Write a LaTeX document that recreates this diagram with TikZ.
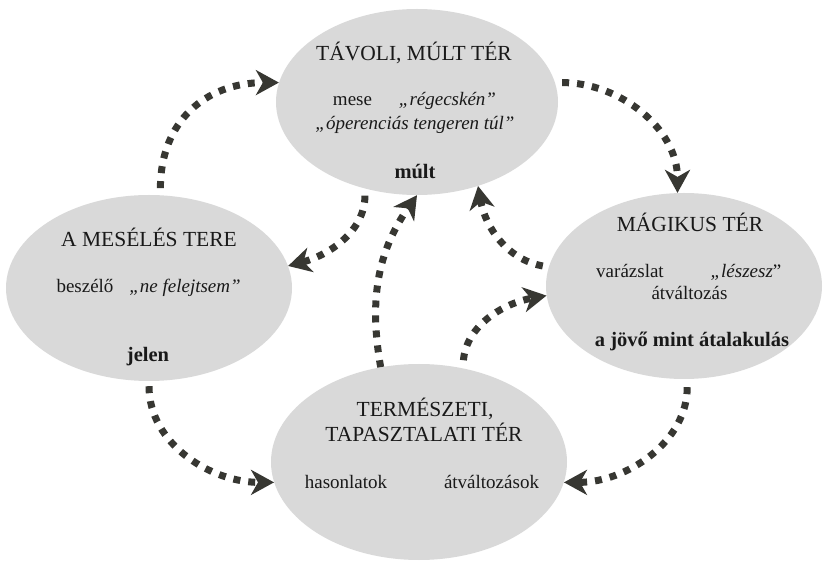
\documentclass[tikz,border=0pt]{standalone}
\usepackage{fontspec}
\setmainfont{Liberation Serif}
\usetikzlibrary{shapes.geometric,arrows.meta}
\definecolor{ellgray}{RGB}{217,217,217}
\definecolor{arrgray}{RGB}{55,55,50}
\definecolor{txt}{RGB}{25,25,25}
\tikzset{
  ell/.style={ellipse,fill=ellgray,draw=none,inner sep=0pt},
  head/.style={anchor=base,inner sep=0pt,text=txt,font=\fontsize{21.5}{24}\selectfont},
  body/.style={anchor=base,inner sep=0pt,text=txt,font=\fontsize{19}{22}\selectfont},
  bodyit/.style={anchor=base,inner sep=0pt,text=txt,font=\fontsize{19}{22}\selectfont\itshape},
  bold/.style={anchor=base,inner sep=0pt,text=txt,font=\fontsize{20.5}{23}\selectfont\bfseries},
  flow/.style={draw=arrgray,line width=7pt,dash pattern=on 7pt off 8pt,
    -{Stealth[length=23pt 0 0,width=25pt 0 0,inset=7pt 0]},fill=none},
}
\begin{document}
\begin{tikzpicture}[x=1pt,y=1pt]
\useasboundingbox (0,0) rectangle (823,563);
% ellipses
\node[ell,minimum width=282pt,minimum height=186pt] (T) at (417,461) {};
\node[ell,minimum width=286pt,minimum height=186pt] (L) at (149,275) {};
\node[ell,minimum width=276pt,minimum height=186pt] (R) at (684,277) {};
\node[ell,minimum width=296pt,minimum height=196pt] (B) at (419,101) {};
% top texts
\node[head] (t1) at (414,502.3) {TÁVOLI, MÚLT TÉR};
\node[body] (t2) at (352.5,457) {mese};
\node[bodyit] (t3) at (447.5,457) {„régecskén”};
\node[bodyit] (t4) at (415,433.7) {„óperenciás tengeren túl”};
\node[bold] (t5) at (415,384.7) {múlt};
% left texts
\node[head] (l1) at (149,316.3) {A MESÉLÉS TERE};
\node[body] (l2) at (85,270.3) {beszélő};
\node[bodyit] (l3) at (185,270.3) {„ne felejtsem”};
\node[bold] (l4) at (148,201.3) {jelen};
% right texts
\node[head] (r1) at (690,331.3) {MÁGIKUS TÉR};
\node[body] (r2) at (630,285.7) {varázslat};
\node[body] (r3) at (746,285.7) {\textit{„lészesz}”};
\node[body] (r4) at (689.5,263) {átváltozás};
\node[bold] (r5) at (692,216.3) {a jövő mint átalakulás};
% bottom texts
\node[head] (b1) at (425,146.3) {TERMÉSZETI,};
\node[head] (b2) at (424,121.3) {TAPASZTALATI TÉR};
\node[body] (b3) at (346,74.7) {hasonlatok};
\node[body] (b4) at (491.5,74.7) {átváltozások};
% connectors
\draw[flow,shorten <=7pt] (L.83) to[out=90,in=180,looseness=1.15] (T.172);
\draw[flow,shorten <=7pt] (T.8) to[out=0,in=90] (R.94);
\draw[flow,shorten <=7pt] (T.239) to[out=-90,in=15] (L.9);
\draw[flow] (B.112) to[out=100,in=235] (T.270);
\draw[flow,shorten <=6pt] (R.172) to[out=170,in=-80] (T.306);
\draw[flow,shorten <=8pt] (B.65) to[out=85,in=190] (R.184);
\draw[flow,shorten <=5pt] (L.270) to[out=-90,in=180] (B.188);
\draw[flow,shorten <=8pt] (R.272) to[out=-90,in=0] (B.352);
\end{tikzpicture}
\end{document}
